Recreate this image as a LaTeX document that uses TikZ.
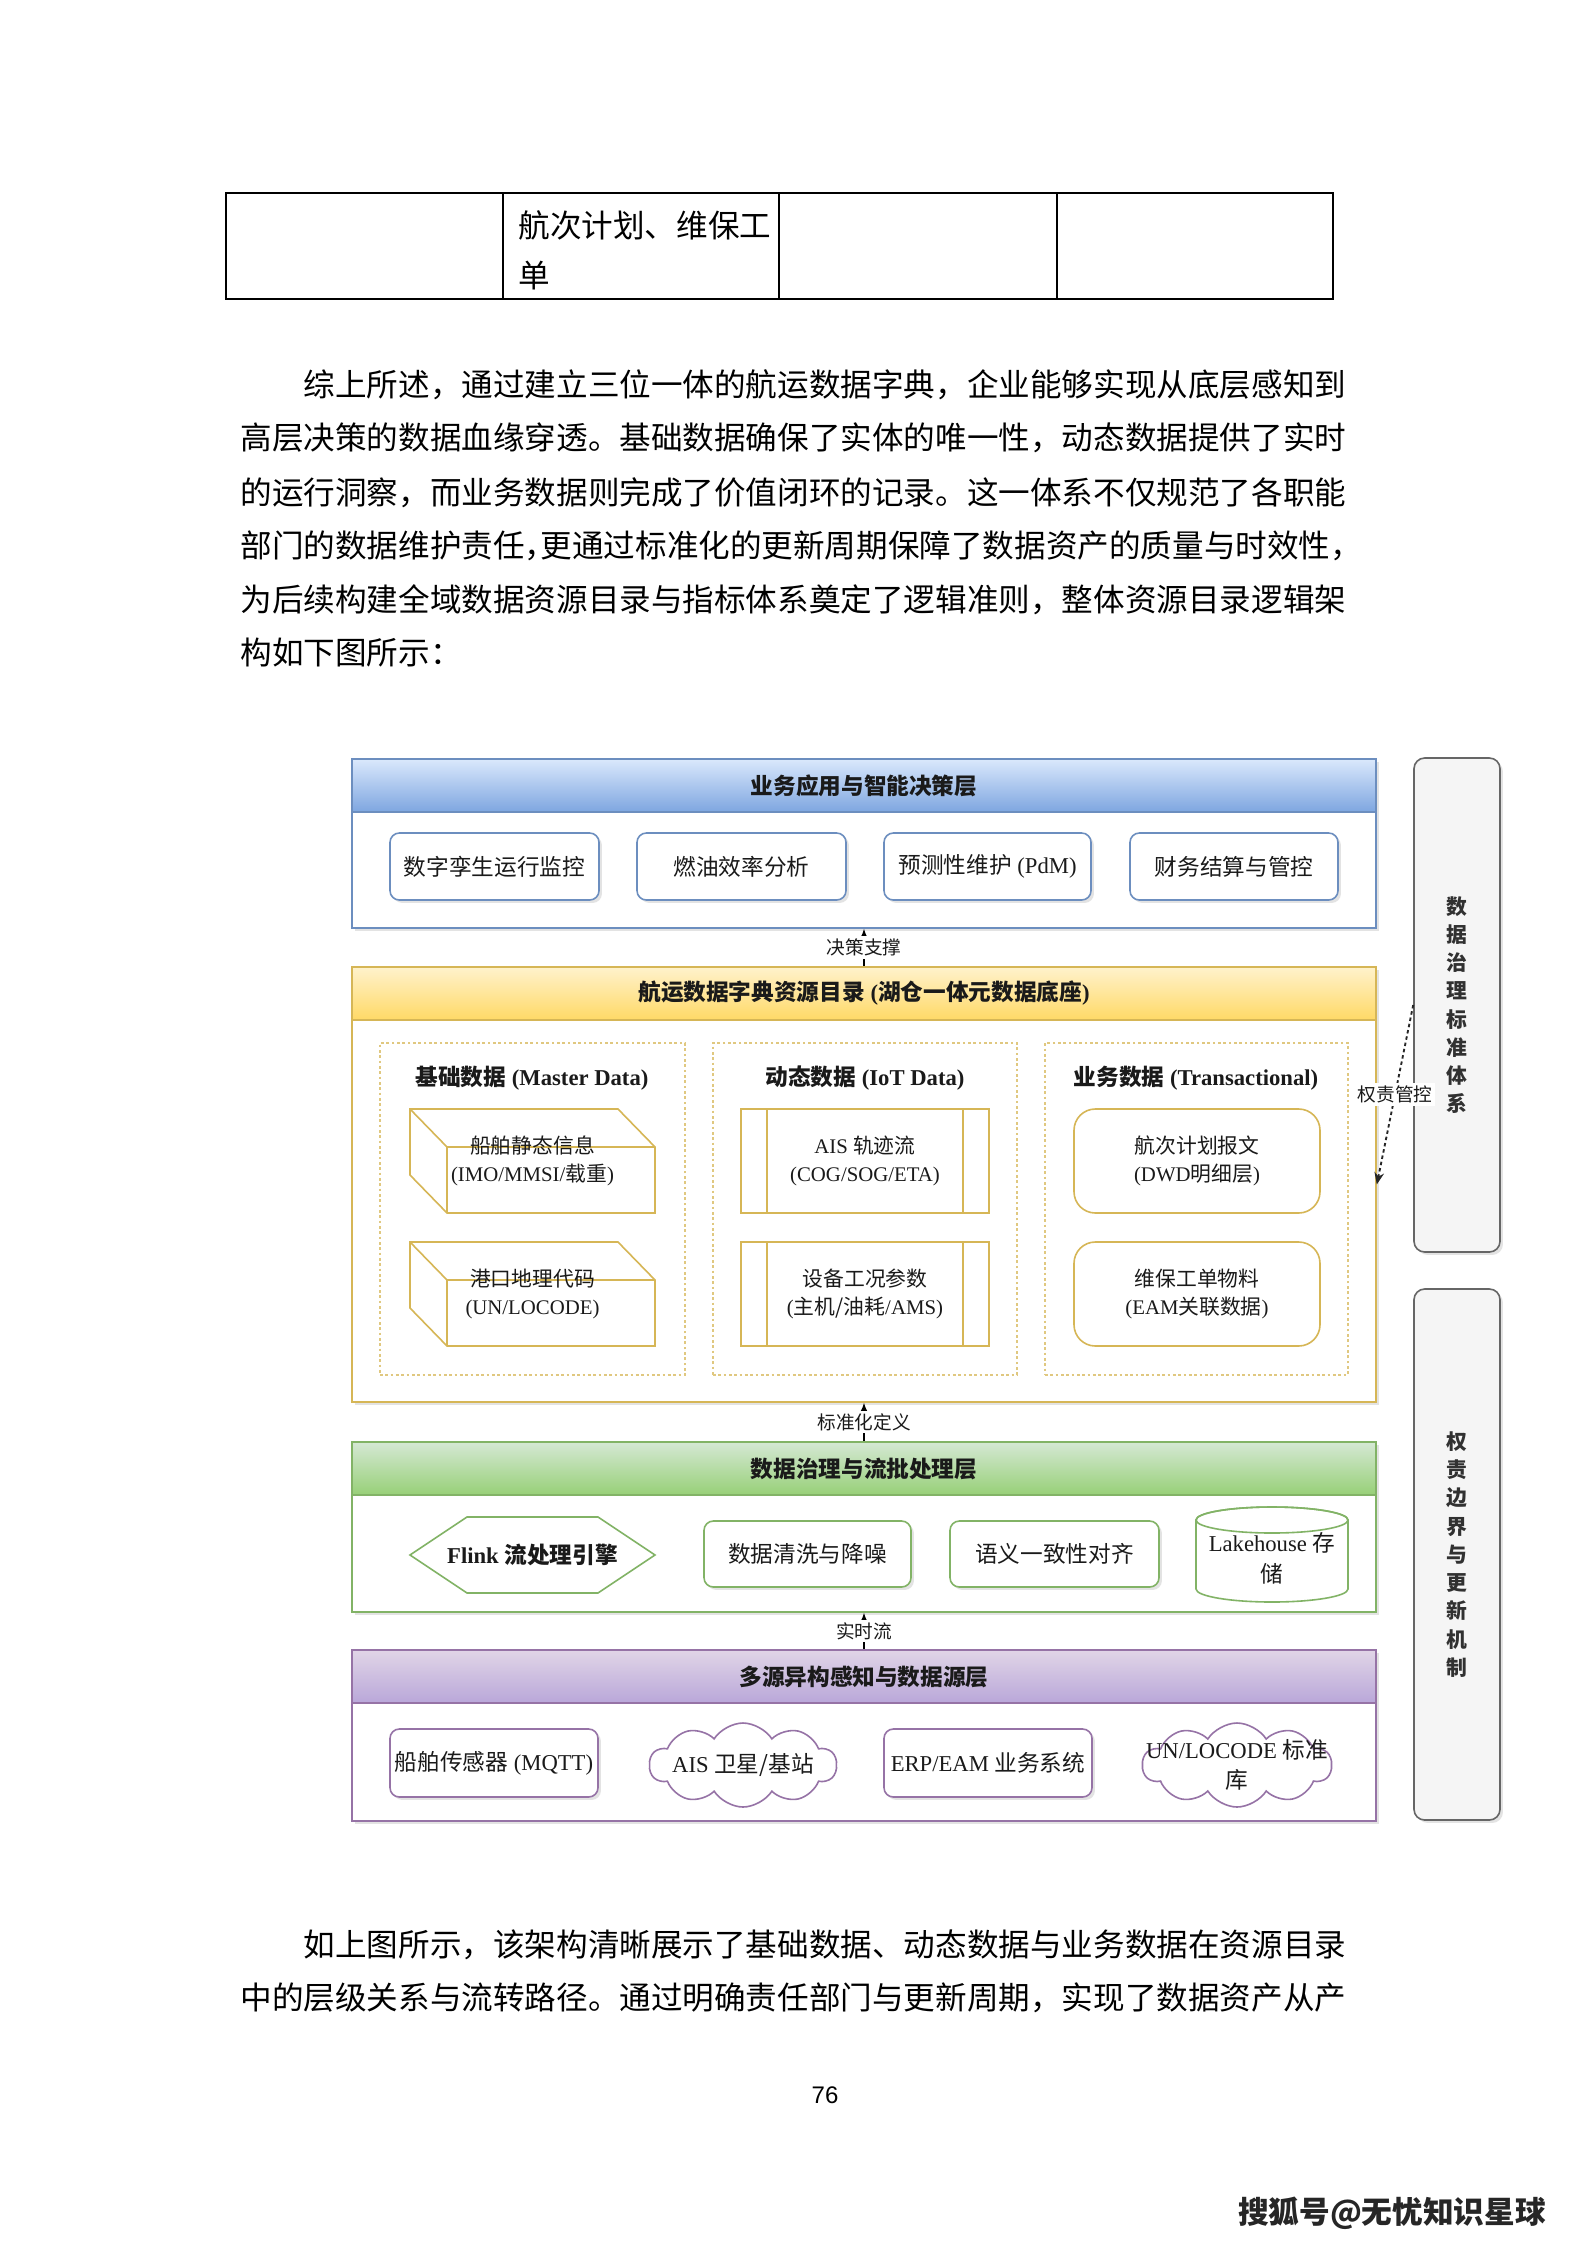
\documentclass[tikz,border=0pt]{standalone}
\usepackage{fontspec}
\setmainfont{Liberation Serif}
\newfontfamily\cjk{Noto Sans CJK SC}
\newfontfamily\sansf{Liberation Sans}
\usetikzlibrary{shapes.symbols,shadows,fit,arrows.meta}
\definecolor{bluebd}{HTML}{6C8EBF}
\definecolor{bluetop}{HTML}{DAE8FC}
\definecolor{bluebot}{HTML}{7EA6E0}
\definecolor{yelbd}{HTML}{D6B656}
\definecolor{yeltop}{HTML}{FFF2CC}
\definecolor{yelbot}{HTML}{FFD966}
\definecolor{grnbd}{HTML}{82B366}
\definecolor{grntop}{HTML}{D5E8D4}
\definecolor{grnbot}{HTML}{97D077}
\definecolor{purbd}{HTML}{9673A6}
\definecolor{purtop}{HTML}{E1D5E7}
\definecolor{purbot}{HTML}{B9A7D9}
\definecolor{panelfill}{HTML}{F5F5F5}
\definecolor{panelbd}{HTML}{666666}
\definecolor{txtc}{HTML}{1A1A1A}
\newcommand\zh[1]{{\cjk #1}}
\tikzset{
  shd/.style={drop shadow={shadow xshift=1.1pt,shadow yshift=-1.1pt,opacity=0.22}},
  bodytxt/.style={anchor=west,inner sep=0pt,font=\cjk\fontsize{11.85}{14}\selectfont},
  laybox/.style={draw=#1,line width=0.6pt,fill=white,inner sep=0pt,shd},
  lhead/.style n args={3}{draw=#1,line width=0.6pt,top color=#2,bottom color=#3,inner sep=0pt},
  ltitle/.style={inner sep=0pt,text=txtc,font=\bfseries\fontsize{8.5}{10}\selectfont},
  sbox/.style={draw=#1,line width=0.6pt,fill=white,inner sep=0pt,rounded corners=3.5pt,shd},
  txt/.style={inner sep=0pt,align=center,text=txtc,font=\fontsize{8.5}{11.5}\selectfont},
  itxt/.style={inner sep=0pt,align=center,text=txtc,font=\fontsize{7.8}{10.3}\selectfont},
  gtitle/.style={inner sep=0pt,text=txtc,font=\bfseries\fontsize{8.5}{10}\selectfont},
  grp/.style={draw=yelbd!75,dash pattern=on 1pt off 1pt,line width=0.5pt,inner sep=0pt},
  emptyfit/.style={inner sep=0pt},
  panel/.style={draw=panelbd,fill=panelfill,line width=0.6pt,rounded corners=4pt,inner sep=0pt,shd},
  vtext/.style={inner sep=0pt,align=center,text=txtc!90,font=\cjk\bfseries\fontsize{7.8}{10.6}\selectfont},
  conn/.style={-{Latex[length=3.6pt,width=3pt]},line width=0.45pt,black},
  dconn/.style={-{Stealth[length=4.5pt,width=3.6pt]},line width=0.7pt,black!85,dash pattern=on 1.3pt off 1.1pt},
  clab/.style={fill=white,inner sep=1pt,text=txtc,font=\cjk\fontsize{7}{8}\selectfont}
}
\newcommand\cubeat[4]{%
  \filldraw[draw=yelbd,fill=white,line width=0.6pt] (#1,#2) -- ++(208,0) -- ++(37,38) -- ++(0,66) -- ++(-208,0) -- ++(-37,-38) -- cycle;
  \draw[yelbd,line width=0.6pt] (#1,#2) -- ++(37,38) -- ++(208,0);
  \draw[yelbd,line width=0.6pt] (#1+37,#2+38) -- ++(0,66);
  \node[emptyfit,fit={(#1,#2)(#1+245,#2+104)}] (#3) {};
  \node[itxt] at (#3) {#4};}
\newcommand\procat[4]{%
  \node[draw=yelbd,fill=white,line width=0.6pt,inner sep=0pt,fit={(#1,#2)(#1+248,#2+104)}] (#3) {};
  \draw[yelbd,line width=0.6pt] (#1+26,#2) -- ++(0,104) (#1+222,#2) -- ++(0,104);
  \node[itxt] at (#3) {#4};}
\begin{document}
\begin{tikzpicture}[x=0.3751pt,y=-0.3751pt]
\useasboundingbox (0,0) rectangle (1587,2245);
\fill[white] (0,0) rectangle (1587,2245);

% ---- table fragment
\draw[line width=0.9pt] (226,193) rectangle (1333,299);
\draw[line width=0.45pt] (503,193) -- (503,299) (779,193) -- (779,299) (1057,193) -- (1057,299);
\node[bodytxt] (tc1) at (518,225) {航次计划、维保工};
\node[bodytxt] (tc2) at (518,276) {单};

% ---- paragraph
\node[bodytxt] (pa1) at (240,385) {\hspace{2em}综上所述，通过建立三位一体的航运数据字典，企业能够实现从底层感知到};
\node[bodytxt] (pa2) at (240,438) {高层决策的数据血缘穿透。基础数据确保了实体的唯一性，动态数据提供了实时};
\node[bodytxt] (pa3) at (240,493) {的运行洞察，而业务数据则完成了价值闭环的记录。这一体系不仅规范了各职能};
\node[bodytxt] (pa4) at (240,546) {部门的数据维护责任{\addfontfeature{RawFeature=+halt}，}更通过标准化的更新周期保障了数据资产的质量与时效性，};
\node[bodytxt] (pa5) at (240,600) {为后续构建全域数据资源目录与指标体系奠定了逻辑准则，整体资源目录逻辑架};
\node[bodytxt] (pa6) at (240,653) {构如下图所示：};

% ---- layer 1 (blue)
\node[laybox=bluebd,fit={(352,759)(1376,928)}] (L1) {};
\node[lhead={bluebd}{bluetop}{bluebot},fit={(352,759)(1376,812)}] (L1h) {};
\node[ltitle] at (L1h) {\zh{业务应用与智能决策层}};
\node[sbox=bluebd,fit={(390,833)(599,900)}] (A1) {};
\node[txt] at (A1) {\zh{数字孪生运行监控}};
\node[sbox=bluebd,fit={(637,833)(846,900)}] (A2) {};
\node[txt] at (A2) {\zh{燃油效率分析}};
\node[sbox=bluebd,fit={(884,833)(1091,900)}] (A3) {};
\node[txt] at (A3) {\zh{预测性维护} (PdM)};
\node[sbox=bluebd,fit={(1130,833)(1338,900)}] (A4) {};
\node[txt] at (A4) {\zh{财务结算与管控}};

% ---- layer 2 (yellow)
\node[laybox=yelbd,fit={(352,967)(1376,1402)}] (L2) {};
\node[lhead={yelbd}{yeltop}{yelbot},fit={(352,967)(1376,1020)}] (L2h) {};
\node[ltitle] at (L2h) {\zh{航运数据字典资源目录} (\zh{湖仓一体元数据底座})};
\node[grp,fit={(380,1043)(685,1375)}] (G1) {};
\node[grp,fit={(713,1043)(1017,1375)}] (G2) {};
\node[grp,fit={(1045,1043)(1348,1375)}] (G3) {};
\node[gtitle] (G1t) at (532,1078) {\zh{基础数据} (Master Data)};
\node[gtitle] (G2t) at (865,1078) {\zh{动态数据} (IoT Data)};
\node[gtitle] (G3t) at (1196,1078) {\zh{业务数据} (Transactional)};
\cubeat{410}{1109}{C1}{\zh{船舶静态信息}\\(IMO/MMSI/\zh{载重})}
\cubeat{410}{1242}{C2}{\zh{港口地理代码}\\(UN/LOCODE)}
\procat{741}{1109}{P1}{AIS \zh{轨迹流}\\(COG/SOG/ETA)}
\procat{741}{1242}{P2}{\zh{设备工况参数}\\(\zh{主机/油耗}/AMS)}
\node[draw=yelbd,fill=white,line width=0.6pt,inner sep=0pt,rounded corners=8pt,fit={(1074,1109)(1320,1213)}] (T1) {};
\node[itxt] at (T1) {\zh{航次计划报文}\\(DWD\zh{明细层})};
\node[draw=yelbd,fill=white,line width=0.6pt,inner sep=0pt,rounded corners=8pt,fit={(1074,1242)(1320,1346)}] (T2) {};
\node[itxt] at (T2) {\zh{维保工单物料}\\(EAM\zh{关联数据})};

% ---- layer 3 (green)
\node[laybox=grnbd,fit={(352,1442)(1376,1612)}] (L3) {};
\node[lhead={grnbd}{grntop}{grnbot},fit={(352,1442)(1376,1495)}] (L3h) {};
\node[ltitle] at (L3h) {\zh{数据治理与流批处理层}};
\filldraw[draw=grnbd,fill=white,line width=0.6pt] (410,1555) -- (467,1517) -- (598,1517) -- (655,1555) -- (598,1593) -- (467,1593) -- cycle;
\node[emptyfit,fit={(410,1517)(655,1593)}] (H1) {};
\node[txt,font=\bfseries\fontsize{8.5}{11}\selectfont] at (H1) {Flink \zh{流处理引擎}};
\node[sbox=grnbd,fit={(704,1521)(911,1587)}] (H2) {};
\node[txt] at (H2) {\zh{数据清洗与降噪}};
\node[sbox=grnbd,fit={(950,1521)(1159,1587)}] (H3) {};
\node[txt] at (H3) {\zh{语义一致性对齐}};
\filldraw[draw=grnbd,fill=white,line width=0.6pt] (1196,1520) -- (1196,1589) arc[start angle=180,end angle=0,x radius=76,y radius=13] -- (1348,1520) arc[start angle=0,end angle=-180,x radius=76,y radius=13] -- cycle;
\draw[grnbd,line width=0.6pt] (1272,1520) ellipse[x radius=76,y radius=13];
\node[emptyfit,fit={(1196,1507)(1348,1602)}] (H4) {};
\node[txt] at ([yshift=-1.5pt]H4.center) {Lakehouse \zh{存}\\\zh{储}};

% ---- layer 4 (purple)
\node[laybox=purbd,fit={(352,1650)(1376,1821)}] (L4) {};
\node[lhead={purbd}{purtop}{purbot},fit={(352,1650)(1376,1703)}] (L4h) {};
\node[ltitle] at (L4h) {\zh{多源异构感知与数据源层}};
\node[sbox=purbd,fit={(390,1729)(598,1797)}] (S1) {};
\node[txt] at (S1) {\zh{船舶传感器} (MQTT)};
\node[cloud,cloud puffs=10,cloud puff arc=115,aspect=2.2,draw=purbd,fill=white,line width=0.6pt,inner sep=0pt,minimum width=187*0.3751pt,minimum height=84*0.3751pt] (S2) at (743,1765) {};
\node[txt] at (S2) {AIS \zh{卫星/基站}};
\node[sbox=purbd,fit={(884,1729)(1092,1797)}] (S3) {};
\node[txt] at (S3) {ERP/EAM \zh{业务系统}};
\node[cloud,cloud puffs=10,cloud puff arc=115,aspect=2.2,draw=purbd,fill=white,line width=0.6pt,inner sep=0pt,minimum width=189*0.3751pt,minimum height=84*0.3751pt] (S4) at (1237,1765) {};
\node[txt] at (S4) {UN/LOCODE \zh{标准}\\\zh{库}};

% ---- side panels
\node[panel,fit={(1414,758)(1500,1252)}] (R1) {};
\node[vtext] at (R1) {数\\据\\治\\理\\标\\准\\体\\系};
\node[panel,fit={(1414,1289)(1500,1820)}] (R2) {};
\node[vtext] at (R2) {权\\责\\边\\界\\与\\更\\新\\机\\制};

% ---- connectors
\draw[conn] (L2.north) -- (L1.south) node[midway,clab] {决策支撑};
\draw[conn] (L3.north) -- (L2.south) node[midway,clab] {标准化定义};
\draw[conn] (L4.north) -- (L3.south) node[midway,clab] {实时流};
\draw[dconn] (R1.west) -- (L2.east) node[midway,clab] {权责管控};

% ---- paragraph after figure
\node[bodytxt] (pb1) at (240,1945) {\hspace{2em}如上图所示，该架构清晰展示了基础数据、动态数据与业务数据在资源目录};
\node[bodytxt] (pb2) at (240,1998) {中的层级关系与流转路径。通过明确责任部门与更新周期，实现了数据资产从产};

% ---- page number and mark
\node[inner sep=0pt,font=\sansf\fontsize{9}{10}\selectfont] (pg) at (825,2095) {76};
\node[inner sep=0pt,text=black!85,font=\cjk\bfseries\fontsize{11.5}{13}\selectfont] (wm) at (1392,2213) {搜狐号@无忧知识星球};
\end{tikzpicture}
\end{document}
